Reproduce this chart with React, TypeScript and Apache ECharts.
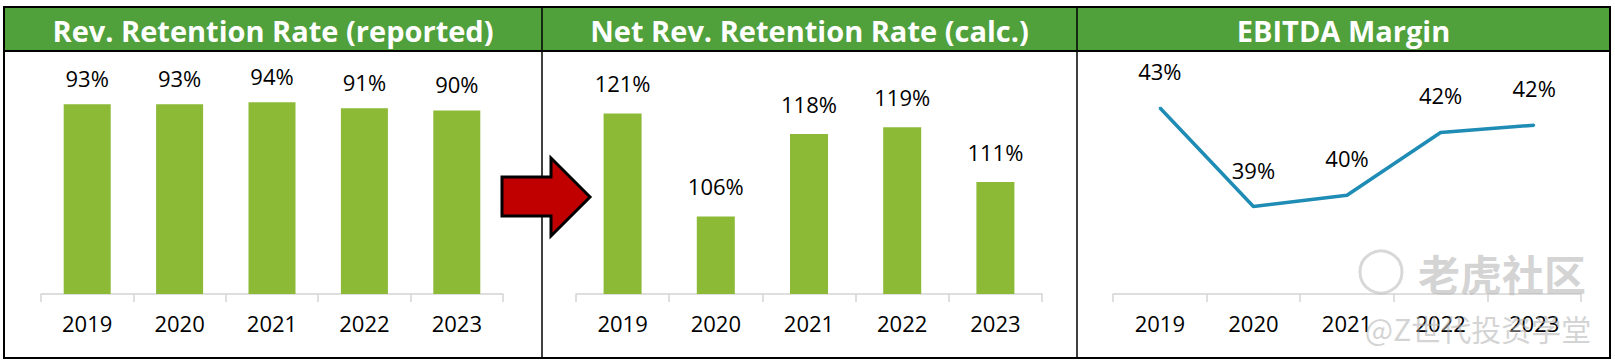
import React, { useEffect, useRef } from "react";
import * as echarts from "echarts";

const years = ["2019", "2020", "2021", "2022", "2023"];
const revRetention = [93, 93, 94, 91, 90];
const netRevRetention = [121, 106, 118, 119, 111];
const ebitdaMargin = [42.96, 39.27, 39.69, 42.04, 42.31];
const titles = ["Rev. Retention Rate (reported)", "Net Rev. Retention Rate (calc.)", "EBITDA Margin"];

const FONT = "'Open Sans', 'Noto Sans', sans-serif";
const BAR = "#8CB936";
const HEADER = "#50A03C";
const LINE = "#1E8CB4";

export default function App() {
  const ref = useRef<HTMLDivElement>(null);
  useEffect(() => {
    document.body.style.margin = "0";
    const chart = echarts.init(ref.current!, null, { renderer: "svg" });
    const xAxisBase = (gi: number) => ({
      type: "category",
      gridIndex: gi,
      data: years,
      axisLine: { lineStyle: { color: "#D4D4D4", width: 1.5 } },
      axisTick: { show: true, length: 8, lineStyle: { color: "#D4D4D4", width: 1.5 } },
      axisLabel: { color: "#000", fontSize: 22, fontFamily: FONT, margin: 18 },
    });
    const yAxisBase = (gi: number, min: number, max: number) => ({
      type: "value",
      gridIndex: gi,
      min,
      max,
      show: false,
      splitLine: { show: false },
    });
    const pct = (p: any) => Math.round(p.value) + "%";
    const label = (dist: number) => ({
      show: true,
      position: "top",
      distance: dist,
      formatter: pct,
      color: "#000",
      opacity: 1,
      fontSize: 22,
      fontFamily: FONT,
    });
    const panels = [
      [4, 542],
      [542, 1077],
      [1077, 1610],
    ];
    const graphic: any[] = [];
    graphic.push({
      type: "rect",
      shape: { x: 4, y: 7, width: 1606, height: 44 },
      style: { fill: HEADER },
      z: 0,
    });
    panels.forEach(([a, b], i) => {
      graphic.push({
        type: "text",
        x: (a + b) / 2,
        y: 30,
        style: {
          text: titles[i],
          fill: "#fff",
          font: `bold 29px ${FONT}`,
          align: "center",
          verticalAlign: "middle",
        },
        z: 2,
      });
    });
    graphic.push({
      type: "rect",
      shape: { x: 4, y: 7, width: 1606, height: 351 },
      style: { fill: "none", stroke: "#000", lineWidth: 2 },
      z: 5,
    });
    graphic.push({
      type: "line",
      shape: { x1: 4, y1: 51, x2: 1610, y2: 51 },
      style: { stroke: "#000", lineWidth: 2 },
      z: 5,
    });
    [542, 1077].forEach((x) =>
      graphic.push({
        type: "line",
        shape: { x1: x, y1: 7, x2: x, y2: 358 },
        style: { stroke: "#000", lineWidth: 1.5 },
        z: 5,
      })
    );
    graphic.push({
      type: "polygon",
      shape: {
        points: [
          [502, 177],
          [551, 177],
          [551, 158],
          [590, 197],
          [551, 236],
          [551, 216],
          [502, 216],
        ],
      },
      style: { fill: "#C00000", stroke: "#000", lineWidth: 3, lineJoin: "miter" },
      z: 10,
    });
    graphic.push({
      type: "circle",
      shape: { cx: 1381, cy: 272, r: 21 },
      style: { fill: "none", stroke: "rgba(190,190,190,0.6)", lineWidth: 3 },
      z: 20,
    });
    graphic.push({
      type: "text",
      x: 1502,
      y: 272,
      style: {
        text: "老虎社区",
        fill: "rgba(175,175,175,0.55)",
        font: `bold 42px 'Noto Sans CJK SC', sans-serif`,
        align: "center",
        verticalAlign: "middle",
      },
      z: 20,
    });
    graphic.push({
      type: "text",
      x: 1478,
      y: 328,
      style: {
        text: "@Z世代投资学堂",
        fill: "rgba(175,175,175,0.55)",
        font: `30px 'Noto Sans CJK SC', sans-serif`,
        align: "center",
        verticalAlign: "middle",
      },
      z: 20,
    });

    chart.setOption({
      animation: false,
      grid: [
        { left: 41, width: 462, top: 90, height: 204 },
        { left: 576, width: 466, top: 88, height: 206 },
        { left: 1113, width: 468, top: 80, height: 214 },
      ],
      xAxis: [xAxisBase(0), xAxisBase(1), xAxisBase(2)],
      yAxis: [yAxisBase(0, 0, 100), yAxisBase(1, 94.7, 124.7), yAxisBase(2, 36, 44)],
      series: [
        {
          type: "bar",
          xAxisIndex: 0,
          yAxisIndex: 0,
          data: revRetention,
          barWidth: 47,
          itemStyle: { color: BAR },
          label: label(15),
        },
        {
          type: "bar",
          xAxisIndex: 1,
          yAxisIndex: 1,
          data: netRevRetention,
          barWidth: 38,
          itemStyle: { color: BAR },
          label: label(19),
        },
        {
          type: "line",
          xAxisIndex: 2,
          yAxisIndex: 2,
          data: ebitdaMargin,
          symbol: "circle",
          symbolSize: 2,
          showSymbol: true,
          itemStyle: { color: LINE },
          lineStyle: { color: LINE, width: 3.5 },
          label: label(25),
        },
      ],
      graphic,
    });
    return () => chart.dispose();
  }, []);
  return <div ref={ref} style={{ width: 1615, height: 363, background: "#fff" }} />;
}
